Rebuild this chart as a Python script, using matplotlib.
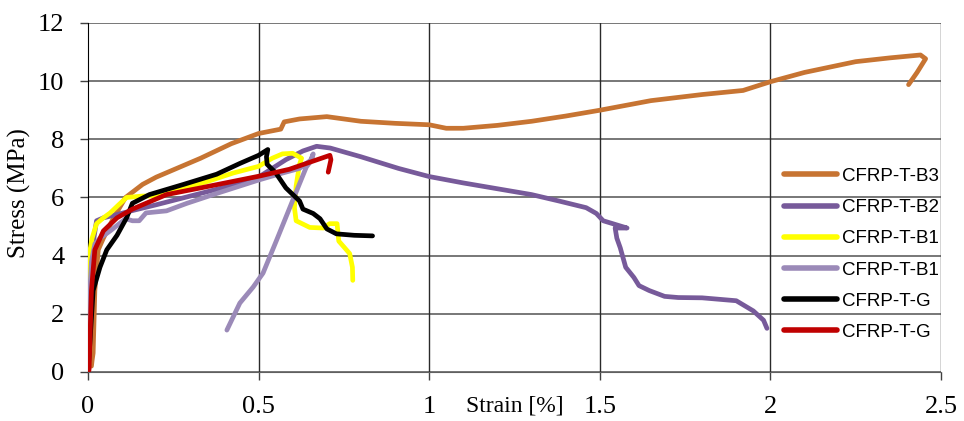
# Stress-strain curves of CFRP tension specimens
import matplotlib.pyplot as plt

# strain [%] / stress [MPa] per specimen
b3_strain = [0.01, 0.012, 0.015, 0.02, 0.03, 0.045, 0.075, 0.11, 0.16, 0.2, 0.25, 0.33, 0.42,
             0.5, 0.565, 0.575, 0.62, 0.7, 0.8, 0.9, 1.0, 1.05, 1.1, 1.2, 1.3, 1.4, 1.5, 1.65,
             1.8, 1.92, 2.0, 2.1, 2.25, 2.35, 2.44, 2.455, 2.43, 2.405]
b3_stress = [0.2, 0.4, 0.65, 2.8, 4.2, 4.6, 5.3, 6.0, 6.45, 6.7, 6.95, 7.35, 7.85,
             8.2, 8.35, 8.6, 8.7, 8.78, 8.62, 8.55, 8.5, 8.38, 8.38, 8.48, 8.62, 8.8, 9.0, 9.33,
             9.54, 9.68, 9.98, 10.3, 10.67, 10.8, 10.9, 10.77, 10.3, 9.88]

b2_strain = [0.0, 0.005, 0.012, 0.025, 0.045, 0.08, 0.13, 0.2, 0.3, 0.4, 0.5, 0.58, 0.63, 0.67,
             0.71, 0.8, 0.91, 1.0, 1.1, 1.2, 1.3, 1.38, 1.46, 1.49, 1.51, 1.58, 1.545, 1.55,
             1.56, 1.576, 1.6, 1.615, 1.645, 1.69, 1.73, 1.8, 1.9, 1.95, 1.98, 1.99]
b2_stress = [0.0, 2.5, 4.2, 5.2, 5.3, 5.4, 5.55, 5.75, 6.05, 6.35, 6.7, 7.3, 7.6, 7.76,
             7.7, 7.4, 7.0, 6.72, 6.5, 6.3, 6.1, 5.88, 5.65, 5.45, 5.2, 4.95, 4.95, 4.6,
             4.27, 3.6, 3.25, 2.97, 2.8, 2.6, 2.56, 2.55, 2.45, 2.1, 1.78, 1.5]

b1y_strain = [0.0, 0.003, 0.006, 0.012, 0.025, 0.045, 0.065, 0.09, 0.113, 0.16, 0.21, 0.28,
              0.35, 0.425, 0.5, 0.54, 0.57, 0.6, 0.626, 0.62, 0.61, 0.605, 0.61, 0.65, 0.69,
              0.708, 0.73, 0.735, 0.75, 0.767, 0.775, 0.776]
b1y_stress = [2.8, 3.6, 4.2, 4.6, 5.1, 5.3, 5.47, 5.75, 6.0, 6.05, 6.05, 6.33,
              6.55, 6.84, 7.07, 7.35, 7.5, 7.52, 7.35, 7.14, 6.4, 5.65, 5.2, 4.97, 4.95,
              5.1, 5.1, 4.5, 4.3, 4.07, 3.6, 3.15]

b1l_strain = [0.0, 0.004, 0.01, 0.02, 0.035, 0.065, 0.11, 0.13, 0.15, 0.17, 0.23, 0.29, 0.38,
              0.5, 0.57, 0.62, 0.655, 0.66, 0.65, 0.64, 0.6, 0.553, 0.513, 0.484, 0.445, 0.407]
b1l_stress = [0.0, 2.5, 3.8, 4.4, 4.6, 4.85, 5.27, 5.2, 5.2, 5.47, 5.54, 5.8, 6.15,
              6.6, 6.84, 7.0, 7.3, 7.5, 7.2, 7.05, 5.9, 4.54, 3.4, 2.92, 2.37, 1.44]

g1_strain = [0.0, 0.006, 0.015, 0.035, 0.055, 0.085, 0.113, 0.13, 0.18, 0.28, 0.377, 0.445,
             0.5, 0.527, 0.523, 0.525, 0.55, 0.58, 0.62, 0.63, 0.66, 0.68, 0.7, 0.728, 0.78, 0.834]
g1_stress = [0.0, 1.1, 2.8, 3.6, 4.2, 4.7, 5.3, 5.8, 6.1, 6.45, 6.8, 7.17,
             7.45, 7.65, 7.4, 7.14, 6.85, 6.33, 5.88, 5.6, 5.45, 5.27, 4.92, 4.75, 4.7, 4.68]

g2_strain = [0.0, 0.003, 0.01, 0.02, 0.045, 0.085, 0.13, 0.23, 0.33, 0.5, 0.59, 0.709, 0.712, 0.704]
g2_stress = [0.0, 0.07, 2.8, 4.2, 4.85, 5.3, 5.6, 6.1, 6.33, 6.73, 6.97, 7.45, 7.3, 6.87]

series = [
    ("CFRP-T-B3", b3_strain, b3_stress, "#C77432"),
    ("CFRP-T-B2", b2_strain, b2_stress, "#775A9A"),
    ("CFRP-T-B1", b1y_strain, b1y_stress, "#FFFF00"),
    ("CFRP-T-B1", b1l_strain, b1l_stress, "#9B8AB8"),
    ("CFRP-T-G", g1_strain, g1_stress, "#000000"),
    ("CFRP-T-G", g2_strain, g2_stress, "#C00000"),
]

x_ticks = [0, 0.5, 1, 1.5, 2, 2.5]
x_tick_labels = ["0", "0.5", "1", "1.5", "2", "2.5"]
y_ticks = [0, 2, 4, 6, 8, 10, 12]

fig = plt.figure(figsize=(9.64, 4.21), dpi=100)
ax = fig.add_axes([0.0913, 0.1164, 0.8848, 0.829])

for label, strain, stress, color in series:
    ax.plot(strain, stress, color=color, linewidth=3.4, label=label,
            solid_capstyle="round", solid_joinstyle="round", zorder=3)

ax.set_xlim(0, 2.5)
ax.set_ylim(0, 12)
ax.set_xticks(x_ticks)
ax.set_xticklabels(x_tick_labels)
ax.set_yticks(y_ticks)

serif = "Liberation Serif"
for lbl in ax.get_xticklabels() + ax.get_yticklabels():
    lbl.set_fontfamily(serif)
    lbl.set_fontsize(19)
ax.tick_params(axis="both", direction="out", length=6, width=1, color="#404040", pad=11)

for y in y_ticks:
    ax.axhline(y, color="#606060", linewidth=1.2, zorder=1)
for x in x_ticks[1:]:
    ax.axvline(x, color="#2a2a2a", linewidth=1.0, zorder=1)

for side in ("top", "right"):
    ax.spines[side].set_visible(False)
ax.spines["bottom"].set_color("#606060")
ax.spines["left"].set_color("#000000")

ax.set_xlabel("Strain [%]", fontfamily=serif, fontsize=17)
ax.xaxis.set_label_coords(0.5, -0.068)
ax.set_ylabel("Stress (MPa)", fontfamily=serif, fontsize=18)
ax.yaxis.set_label_coords(-0.067, 0.513)

leg = ax.legend(loc="upper left", bbox_to_anchor=(0.816, 0.585), frameon=False,
                prop={"family": "Liberation Sans", "size": 13.5}, handlelength=2.8,
                handletextpad=0.3, labelspacing=0.75, borderpad=0, borderaxespad=0)
for line in leg.get_lines():
    line.set_linewidth(4)
    line.set_solid_capstyle("round")

fig.savefig("out.png", dpi=100)
